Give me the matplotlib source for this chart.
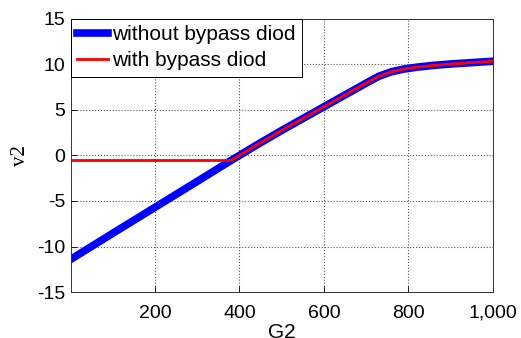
import matplotlib
matplotlib.use("Agg")
import matplotlib.pyplot as plt
import matplotlib.ticker as mticker

# values
g2 = [1, 100, 200, 300, 380, 450, 500, 600, 650, 700, 730, 760, 790, 820, 860, 900, 950, 1000]
v2_without = [-11.4, -8.55, -5.7, -2.85, -0.55, 1.4, 2.75, 5.35, 6.65, 7.95, 8.7, 9.2, 9.5, 9.7, 9.9, 10.05, 10.2, 10.35]
v2_with = [-0.55, -0.55, -0.55, -0.55, -0.55, 1.4, 2.75, 5.35, 6.65, 7.95, 8.7, 9.2, 9.5, 9.7, 9.9, 10.05, 10.2, 10.35]
xticks = [200, 400, 600, 800, 1000]
yticks = [-15, -10, -5, 0, 5, 10, 15]

plt.rcParams['font.family'] = ['Liberation Sans', 'DejaVu Sans']
plt.rcParams['axes.unicode_minus'] = False

fig = plt.figure(figsize=(5.21, 3.38), dpi=100)
ax = fig.add_axes([0.136, 0.136, 0.81, 0.808])

ax.plot(g2, v2_without, color='#0000ff', lw=5.5, label='without bypass diod')
ax.plot(g2, v2_with, color='#ff0000', lw=2, label='with bypass diod')

ax.set_xlim(1, 1000)
ax.set_ylim(-15, 15)
ax.set_xticks(xticks)
ax.set_yticks(yticks)
ax.xaxis.set_major_formatter(mticker.FuncFormatter(lambda v, p: '{:,.0f}'.format(v)))
ax.tick_params(direction='in', labelsize=14, length=4, width=0.6)
ax.tick_params(axis='x', pad=9)
ax.tick_params(axis='y', pad=4)
ax.grid(True, linestyle=':', color='#555555', lw=0.8)
for s in ax.spines.values():
    s.set_linewidth(0.7)
    s.set_color('#333333')

ax.set_xlabel('G2', fontsize=15, labelpad=1)
ax.set_ylabel('v2', fontsize=15, family=['Liberation Serif'], labelpad=5)

leg = ax.legend(loc='upper left', bbox_to_anchor=(0, 1), borderaxespad=0, fancybox=False,
                edgecolor='black', fontsize=15, handlelength=1.5, handletextpad=0.2,
                borderpad=0.3, labelspacing=0.35, framealpha=1)
leg.get_frame().set_linewidth(0.7)

plt.savefig('out.png', dpi=100)
